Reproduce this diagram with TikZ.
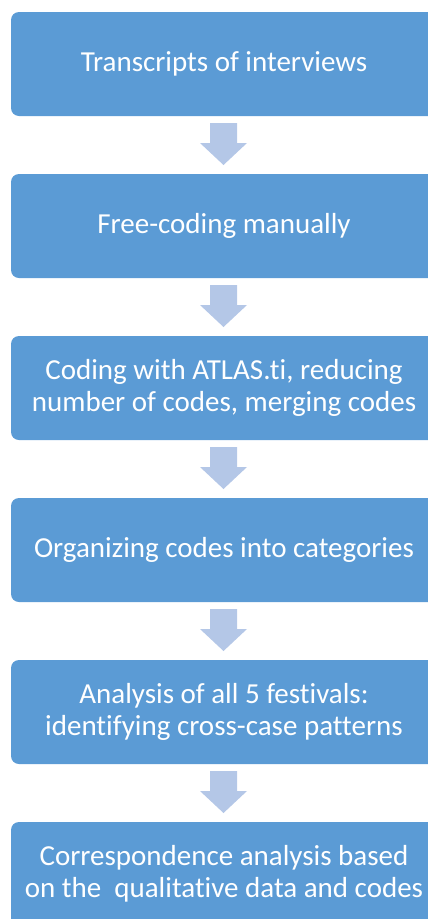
\documentclass[tikz,border=0pt]{standalone}
\usepackage{fontspec}
\setmainfont{Carlito}[Ligatures=NoCommon]
% keep "t" and "i" as separate glyphs
\newcommand{\tisep}{t\kern0pt i}
\begin{document}
\begin{tikzpicture}[x=1pt,y=-1pt,
  stagebox/.style={fill=stageblue, draw=none, rounded corners=8pt,
    minimum width=426pt, minimum height=104pt, inner sep=0pt,
    text=white, align=center, font=\fontsize{29}{32}\selectfont},
  flowarrow/.style={fill=arrowblue, draw=none}]
\definecolor{stageblue}{HTML}{5B9BD5}
\definecolor{arrowblue}{HTML}{B4C7E7}
\useasboundingbox (0,0) rectangle (428,919);
\clip (0,0) rectangle (428,919);
\foreach \i/\txt in {
  1/{Transcripts of interviews},
  2/{Free-coding manually},
  3/{Coding with ATLAS.\tisep, reducing\\number of codes, merging codes},
  4/{Organizing codes into categories},
  5/{Analysis of all 5 fes\tisep vals:\\iden\tisep fying cross-case patterns},
  6/{Correspondence analysis based\\on the\ \ qualita\tisep ve data and codes}}{
  \node[stagebox] (s\i) at (224, {64+162*(\i-1)}) {\txt};
}
% block arrows between consecutive stages
\foreach \i in {1,...,5}{
  \pgfmathsetmacro{\y}{116+162*(\i-1)}
  \fill[flowarrow] (210,\y+7) -- (237,\y+7) -- (237,\y+27) -- (247,\y+27)
    -- (223.5,\y+49) -- (200,\y+27) -- (210,\y+27) -- cycle;
}
\end{tikzpicture}
\end{document}
